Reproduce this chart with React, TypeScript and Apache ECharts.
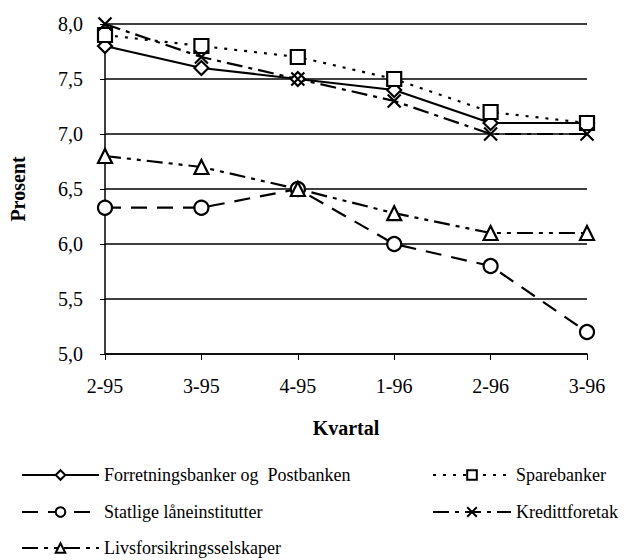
import React, { useEffect, useRef } from "react";
import * as echarts from "echarts";

const categories = ["2-95", "3-95", "4-95", "1-96", "2-96", "3-96"];
const forretning = [7.8, 7.6, 7.5, 7.4, 7.1, 7.1];
const sparebanker = [7.9, 7.8, 7.7, 7.5, 7.2, 7.1];
const statlige = [6.33, 6.33, 6.5, 6.0, 5.8, 5.2];
const kreditt = [8.0, 7.7, 7.5, 7.3, 7.0, 7.0];
const livsfors = [6.8, 6.7, 6.5, 6.28, 6.1, 6.1];
const names = [
  "Forretningsbanker og  Postbanken",
  "Sparebanker",
  "Statlige låneinstitutter",
  "Kredittforetak",
  "Livsforsikringsselskaper",
];

const FONT = "'Liberation Serif', 'Times New Roman', serif";

export default function App() {
  const ref = useRef<HTMLDivElement>(null);
  useEffect(() => {
    const chart = echarts.init(ref.current!, null, { renderer: "svg" });
    const mk = (name: string, data: number[], symbol: string, size: number, dash: any) => ({
      name,
      type: "line",
      data,
      symbol,
      symbolSize: size,
      showAllSymbol: true,
      lineStyle: { color: "#000", width: 2.2, type: dash },
      itemStyle: { color: "#fff", borderColor: "#000", borderWidth: 2.2 },
      z: 3,
    });
    const crossPath = "path://M0,0 L10,10 M10,0 L0,10";
    const legendText = { fontFamily: FONT, fontSize: 18, color: "#000" };
    const leg = (name: string, left: number, top: number, w: number) => ({
      data: [name],
      left,
      top,
      itemWidth: w,
      itemHeight: 12,
      textStyle: legendText,
      selectedMode: false,
      padding: 0,
    });
    chart.setOption({
      animation: false,
      backgroundColor: "#fff",
      grid: { left: 105, right: 48, top: 24, bottom: 206 },
      xAxis: {
        type: "category",
        data: categories,
        boundaryGap: false,
        name: "Kvartal",
        nameLocation: "middle",
        nameGap: 64,
        nameTextStyle: { fontFamily: FONT, fontSize: 20, fontWeight: "bold", color: "#000" },
        axisLine: { lineStyle: { color: "#000", width: 1.5 } },
        axisTick: { show: true, length: 6, lineStyle: { color: "#000" } },
        axisLabel: { fontFamily: FONT, fontSize: 20, color: "#000", margin: 22 },
        splitLine: { show: false },
      },
      yAxis: {
        type: "value",
        min: 5,
        max: 8,
        interval: 0.5,
        name: "Prosent",
        nameLocation: "middle",
        nameGap: 77,
        nameRotate: 90,
        nameTextStyle: { fontFamily: FONT, fontSize: 20, fontWeight: "bold", color: "#000" },
        axisLine: { show: true, lineStyle: { color: "#000", width: 1.5 } },
        axisTick: { show: true, length: 5, lineStyle: { color: "#000" } },
        axisLabel: {
          fontFamily: FONT,
          fontSize: 20,
          color: "#000",
          margin: 22,
          formatter: (v: number) => v.toFixed(1).replace(".", ","),
        },
        splitLine: { show: true, lineStyle: { color: "#000", width: 1.5 } },
      },
      legend: [
        leg(names[0], 21, 466, 77),
        leg(names[1], 432, 466, 78),
        leg(names[2], 21, 503, 77),
        leg(names[3], 432, 503, 78),
        leg(names[4], 21, 539, 77),
      ],
      series: [
        mk(names[0], forretning, "diamond", 14, "solid"),
        mk(names[1], sparebanker, "rect", 14, [3, 7]),
        mk(names[2], statlige, "circle", 14, [16, 10]),
        mk(names[3], kreditt, crossPath, 13, [16, 6, 4, 6]),
        mk(names[4], livsfors, "triangle", 14, [16, 6, 4, 6, 4, 6]),
      ],
    });
    return () => chart.dispose();
  }, []);
  return <div ref={ref} style={{ width: 635, height: 560, marginLeft: -8, marginTop: -8 }} />;
}
